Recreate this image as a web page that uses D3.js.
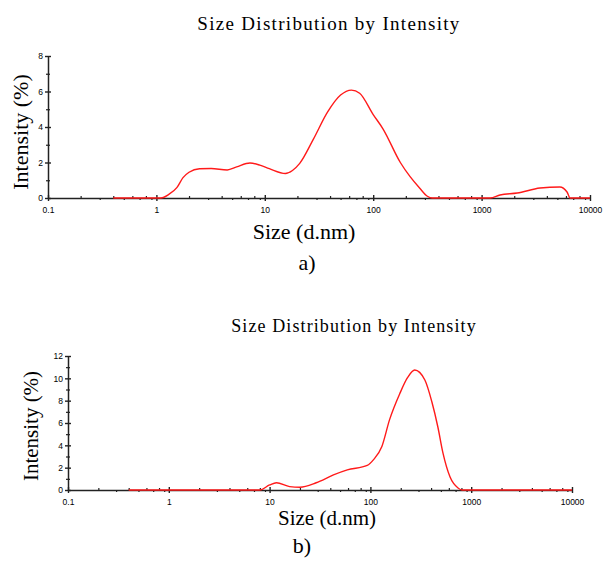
<!DOCTYPE html>
<html>
<head>
<meta charset="utf-8">
<script src="https://cdn.jsdelivr.net/npm/d3@7"></script>
<style>
  body { margin: 0; background: #fff; }
  svg text { fill: #000; }
  .serif { font-family: "Liberation Serif", "Times New Roman", serif; }
  .tickl { font-family: "Liberation Sans", Arial, sans-serif; font-size: 8.5px; }
</style>
</head>
<body>
<div id="chart"></div>
<script>
// data (size in d.nm, intensity in %)
let sizeA = [0.4, 1.1, 1.3, 1.55, 1.76, 2.0, 2.5, 3.2, 4.5, 5.5, 7.3, 9, 11, 15.5, 18, 21, 28, 38, 50, 63, 75, 100, 123, 178, 219, 269, 316, 350, 1200, 1480, 2130, 3460, 5270, 6140, 6550, 10000];
let intA = [0, 0, 0.2, 0.6, 1.15, 1.45, 1.65, 1.66, 1.58, 1.75, 1.97, 1.85, 1.65, 1.38, 1.55, 1.95, 3.3, 4.85, 5.8, 6.08, 5.9, 4.7, 3.9, 2.0, 1.2, 0.55, 0.1, 0, 0, 0.17, 0.28, 0.56, 0.62, 0.34, 0, 0];

let sizeB = [0.4, 8, 10, 11.7, 15.8, 20, 29, 43, 59, 93, 107, 130, 155, 195, 235, 275, 347, 407, 467, 525, 617, 740, 810, 10000];
let intB = [0, 0, 0.45, 0.65, 0.3, 0.25, 0.65, 1.35, 1.8, 2.2, 2.7, 3.9, 6.3, 8.6, 10.1, 10.74, 9.85, 7.9, 5.64, 3.3, 1.16, 0.18, 0, 0];

let xTicks = [0.1, 1, 10, 100, 1000, 10000];
let xTickLabels = ["0.1", "1", "10", "100", "1000", "10000"];
let yTicksA = [0, 2, 4, 6, 8];
let yTicksB = [0, 2, 4, 6, 8, 10, 12];

let titleText = "Size Distribution by Intensity";
let xLabel = "Size (d.nm)";
let yLabel = "Intensity (%)";

let width = 604, height = 563;

let svg = d3.select("#chart").append("svg")
  .attr("width", width)
  .attr("height", height);

function panel(opt) {
  let g = svg.append("g");

  let x = d3.scaleLog().domain([0.1, 10000]).range([opt.left, opt.right]);
  let y = d3.scaleLinear().domain([0, opt.yMax]).range([opt.bottom, opt.top]);

  // minor ticks on x (2..9 per decade)
  let minor = [];
  for (let d = 0.1; d < 10000; d *= 10) {
    for (let k = 2; k <= 9; k++) minor.push(+(d * k).toPrecision(3));
  }
  let xMinor = g.append("g")
    .attr("transform", `translate(0,${opt.bottom})`)
    .call(d3.axisBottom(x).tickValues(minor).tickSize(0).tickFormat(""));
  xMinor.select(".domain").remove();
  xMinor.selectAll(".tick line")
    .attr("y1", (d, i) => i % 2 ? 0 : -2)
    .attr("y2", (d, i) => i % 2 ? 2 : 0)
    .attr("stroke", "#222").attr("stroke-width", 1.2);

  // major x ticks
  let xAx = g.append("g")
    .attr("transform", `translate(0,${opt.bottom})`)
    .call(d3.axisBottom(x).tickValues(xTicks).tickSize(0)
      .tickFormat((d, i) => xTickLabels[i]).tickPadding(opt.xPad));
  xAx.select(".domain").attr("stroke", "#222").attr("stroke-width", 1.5);
  xAx.selectAll(".tick line").attr("y1", -3).attr("y2", 3)
    .attr("stroke", "#222").attr("stroke-width", 1.4);
  xAx.selectAll("text").attr("class", "tickl").attr("font-size", null).attr("font-family", null);

  // y axis with odd minor ticks
  let yMinor = d3.range(1, opt.yMax, 2);
  let yMin = g.append("g")
    .attr("transform", `translate(${opt.left},0)`)
    .call(d3.axisLeft(y).tickValues(yMinor).tickSize(0).tickFormat(""));
  yMin.select(".domain").remove();
  yMin.selectAll(".tick line").attr("x1", -2).attr("x2", 2)
    .attr("stroke", "#222").attr("stroke-width", 1.2);

  let yAx = g.append("g")
    .attr("transform", `translate(${opt.left},0)`)
    .call(d3.axisLeft(y).tickValues(opt.yTicks).tickSize(0).tickPadding(5));
  yAx.select(".domain").attr("stroke", "#222").attr("stroke-width", 1.5);
  yAx.selectAll(".tick line").attr("x1", -3).attr("x2", 3)
    .attr("stroke", "#222").attr("stroke-width", 1.4);
  yAx.selectAll("text").attr("class", "tickl").attr("font-size", null).attr("font-family", null);

  // the curve
  let pts = opt.sizes.map((s, i) => [s, opt.vals[i]]);
  let line = d3.line()
    .x(d => x(d[0]))
    .y(d => y(d[1]))
    .curve(d3.curveMonotoneX);
  g.append("path")
    .datum(pts)
    .attr("d", line)
    .attr("fill", "none")
    .attr("stroke", "#ff1a1a")
    .attr("stroke-width", 1.4);

  // texts
  g.append("text").attr("class", "serif")
    .attr("x", opt.titleX).attr("y", opt.titleY)
    .attr("text-anchor", "middle")
    .attr("font-size", opt.titleSize)
    .attr("letter-spacing", opt.titleSpacing)
    .text(titleText);

  g.append("text").attr("class", "serif")
    .attr("x", opt.xLabelX).attr("y", opt.xLabelY)
    .attr("text-anchor", "middle")
    .attr("font-size", opt.labelSize)
    .text(xLabel);

  g.append("text").attr("class", "serif")
    .attr("transform", `translate(${opt.yLabelX},${opt.yLabelY}) rotate(-90)`)
    .attr("text-anchor", "middle")
    .attr("font-size", opt.labelSize)
    .text(yLabel);

  g.append("text").attr("class", "serif")
    .attr("x", opt.capX).attr("y", opt.capY)
    .attr("text-anchor", "middle")
    .attr("font-size", 22)
    .text(opt.caption);
}

panel({
  left: 48, right: 590, top: 56, bottom: 198, yMax: 8, yTicks: yTicksA,
  sizes: sizeA, vals: intA, xPad: 9,
  titleX: 329, titleY: 30, titleSize: 19, titleSpacing: 1.3,
  xLabelX: 304, xLabelY: 239, labelSize: 22,
  yLabelX: 28, yLabelY: 132,
  capX: 307, capY: 270, caption: "a)"
});

panel({
  left: 68, right: 572, top: 356, bottom: 490, yMax: 12, yTicks: yTicksB,
  sizes: sizeB, vals: intB, xPad: 9,
  titleX: 354, titleY: 332, titleSize: 18, titleSpacing: 1.1,
  xLabelX: 327, xLabelY: 525, labelSize: 21,
  yLabelX: 38, yLabelY: 426,
  capX: 302, capY: 553, caption: "b)"
});
</script>
</body>
</html>
